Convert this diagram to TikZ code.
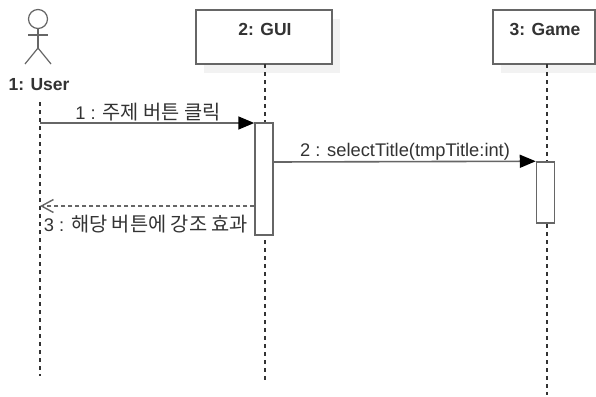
\documentclass[tikz,border=0pt]{standalone}
\usepackage{fontspec}
\setmainfont{Liberation Sans}
\newfontfamily\cjk{Noto Sans CJK KR}[Scale=1.08]
\usetikzlibrary{arrows.meta,shadows}
\definecolor{umlline}{HTML}{666666}
\definecolor{umltext}{HTML}{333333}
\tikzset{
    objbox/.style={draw=umlline, line width=1.5pt, fill=white, minimum width=136pt, minimum height=54pt, inner sep=0pt,
        copy shadow={shadow xshift=8pt, shadow yshift=-9pt, draw=none, fill=black!5}},
    actbox/.style={draw=umlline, line width=1.5pt, fill=white, minimum width=18pt, inner sep=0pt},
    objname/.style={font=\fontsize{17.5}{20}\selectfont\bfseries, text=umltext, inner sep=0pt},
    msgtext/.style={font=\fontsize{18.3}{20}\selectfont, text=umltext, inner sep=0pt},
    lifeline/.style={draw=black!80, line width=1.1pt, dash pattern=on 4pt off 4pt},
    call/.style={draw=umlline, line width=1.6pt, -{Triangle[length=16pt,width=13pt,color=black,fill=black]}},
    reply/.style={draw=umlline, line width=1.4pt, dash pattern=on 4pt off 3pt, -{Straight Barb[length=12pt,width=13pt,color=umlline]}}
}
\begin{document}
\begin{tikzpicture}[x=1pt,y=-1pt]
        \useasboundingbox (0,0) rectangle (596,396);
        \fill[white] (0,0) rectangle (596,396);

        % actor
        \draw[umlline, line width=1.2pt] (38,19) circle (9.5pt);
        \draw[umlline, line width=1.2pt] (38,28.5) -- (38,48);
        \draw[umlline, line width=1.2pt] (28,35) -- (48,35);
        \draw[umlline, line width=1.2pt] (25,64) -- (38,48) -- (51,64);
        \node[objname] (username) at (39,85) {1: User};

        % objects
        \node[objbox] (gui) at (264,37) {};
        \node[objname] (guiname) at (265,29) {2: GUI};
        \node[objbox, minimum width=102pt] (game) at (544,37) {};
        \node[objname] (gamename) at (545,29) {3: Game};

        % lifelines
        \coordinate (userstart) at (40,102);
        \coordinate (userend) at (40,376);
        \coordinate (guitop) at (265,64);
        \coordinate (guiend) at (265,381);
        \coordinate (gametop) at (547,64);
        \coordinate (gameend) at (547,395);
        \draw[lifeline] (userstart) -- (userend);
        \draw[lifeline] (guitop) -- (guiend);
        \draw[lifeline] (gametop) -- (gameend);

        % activations
        \node[actbox, minimum height=112pt] (guiact) at (264,179) {};
        \node[actbox, minimum height=61pt] (gameact) at (545.5,192.5) {};

        % messages
        \coordinate (clickstart) at (40,123);
        \coordinate (replyend) at (40,206);
        \draw[call] (clickstart) -- (clickstart -| guiact.west);
        \draw[call] (guiact.east |- 0,162) -- (gameact.north west);
        \draw[reply] (guiact.west |- replyend) -- (replyend);

        \node[msgtext] (clicktext) at (148,112) {1 : {\cjk 주제 버튼 클릭}};
        \node[msgtext] (selecttext) at (405,152) {2 : selectTitle(tmpTitle:int)};
        \node[msgtext] (replytext) at (146,224) {3 : {\cjk 해당 버튼에 강조 효과}};
        \end{tikzpicture}
\end{document}
